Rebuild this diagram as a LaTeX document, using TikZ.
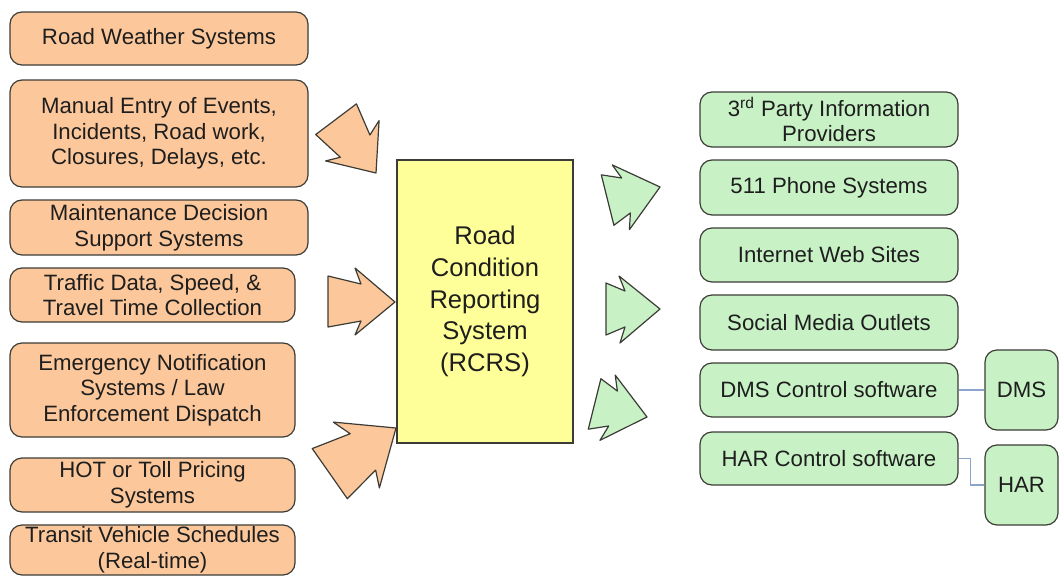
\documentclass[tikz,border=0pt]{standalone}
\usepackage{fontspec}
\setmainfont{Liberation Sans}
\definecolor{srcfill}{RGB}{252,200,155}
\definecolor{outfill}{RGB}{200,242,198}
\definecolor{hubfill}{RGB}{255,255,153}
\definecolor{edgegray}{RGB}{60,60,55}
\definecolor{linkblue}{RGB}{140,165,205}
\definecolor{ink}{RGB}{30,30,30}
\tikzset{
  box/.style={draw=edgegray, line width=0.6pt, rounded corners=6pt, inner sep=0pt, align=center, text=ink, font=\fontsize{11.1}{12.8}\selectfont},
  boxsize/.style 2 args={minimum width=#1*0.5pt, minimum height=#2*0.5pt},
  srcbox/.style={box, fill=srcfill},
  outbox/.style={box, fill=outfill},
  hubbox/.style={box, fill=hubfill, rounded corners=0pt, font=\fontsize{12.8}{15.8}\selectfont},
  link/.style={draw=linkblue, line width=0.8pt},
  pics/inarrow/.style={code={\draw[edgegray, fill=srcfill, line width=0.6pt, line join=round] (-67,25) -- (-34,19) -- (-40,33) -- (0,0) -- (-40,-34) -- (-34,-18) -- (-67,-26) -- cycle;}},
  pics/outarrow/.style={code={\draw[edgegray, fill=outfill, line width=0.6pt, line join=round] (-54,26) -- (-35,18) -- (-40,34) -- (0,0) -- (-41,-33) -- (-35,-18) -- (-54,-26) -- cycle;}}
}
\begin{document}
\begin{tikzpicture}[x=0.5pt, y=-0.5pt]
\useasboundingbox (0,0) rectangle (1060,578);
\node[srcbox, boxsize={298}{53}] (weather) at (159,38.5) {Road Weather Systems};
\node[srcbox, boxsize={298}{107}] (manual) at (159,133.5) {Manual Entry of Events,\\Incidents, Road work,\\Closures, Delays, etc.};
\node[srcbox, boxsize={298}{55}] (maint) at (159,227.5) {Maintenance Decision\\Support Systems};
\node[srcbox, boxsize={285}{54}] (traffic) at (152.5,295) {Traffic Data, Speed, \&\\Travel Time Collection};
\node[srcbox, boxsize={285}{94}] (emerg) at (152.5,390) {Emergency Notification\\Systems / Law\\Enforcement Dispatch};
\node[srcbox, boxsize={285}{54}] (toll) at (152.5,485) {HOT or Toll Pricing\\Systems};
\node[srcbox, boxsize={285}{50}] (transit) at (152.5,550) {Transit Vehicle Schedules\\(Real-time)};
\node[hubbox, boxsize={176}{283}] (rcrs) at (485,301.5) {Road\\Condition\\Reporting\\System\\(RCRS)};
\node[outbox, boxsize={258}{55}] (party) at (829,119.5) {3\textsuperscript{rd} Party Information\\Providers};
\node[outbox, boxsize={258}{55}] (phone) at (829,187.5) {511 Phone Systems};
\node[outbox, boxsize={258}{54}] (web) at (829,255) {Internet Web Sites};
\node[outbox, boxsize={258}{55}] (social) at (829,322.5) {Social Media Outlets};
\node[outbox, boxsize={258}{54}] (dmsctl) at (829,390) {DMS Control software};
\node[outbox, boxsize={258}{53}] (harctl) at (829,458.5) {HAR Control software};
\node[outbox, boxsize={73}{80}] (dms) at (1021.5,390) {DMS};
\node[outbox, boxsize={73}{80}] (har) at (1021.5,485) {HAR};
\draw[link] (dmsctl.east) -- (dms.west);
\draw[link] (harctl.east) -- ++(12,0) |- (har.west);
\pic[rotate=-53] at (376,173) {inarrow};
\pic at (395,302) {inarrow};
\pic[rotate=35, scale=1.2] at (396,428) {inarrow};
\pic[rotate=14] at (660,187) {outarrow};
\pic at (660,309) {outarrow};
\pic[rotate=-14] at (647,417) {outarrow};
\end{tikzpicture}
\end{document}
